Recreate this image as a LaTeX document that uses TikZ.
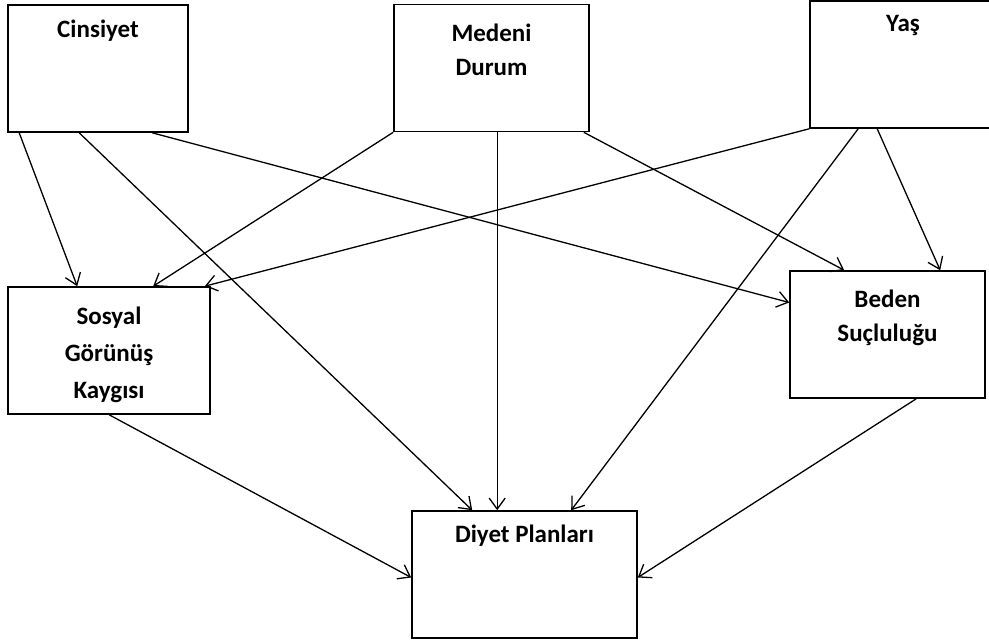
\documentclass[tikz,border=0pt]{standalone}
\usepackage{fontspec}
\setmainfont{Carlito}
\usetikzlibrary{positioning, arrows.meta}

\begin{document}
\begin{tikzpicture}[x=1pt, y=-1pt,
  varbox/.style={draw, line width=1.6pt, rectangle, inner sep=0pt, minimum height=127pt},
  vartext/.style={font=\bfseries\fontsize{25}{34}\selectfont, align=center, inner sep=0pt},
  link/.style={-{Straight Barb[length=11pt, width=16pt]}, line width=1.3pt}]

\useasboundingbox (0,0) rectangle (989,641);
\clip (0,0) rectangle (989,641);

% --- top row: background variables ---
\node[varbox, minimum width=180pt] (cins) at (98,68.5) {};
\node[varbox, minimum width=195pt] (medeni) at (491.5,68) {};
\node[varbox, minimum width=186pt] (yas) at (903,64.5) {};

% --- middle row: mediators ---
\node[varbox, minimum width=202pt] (sosyal) at (109,350.5) {};
\node[varbox, minimum width=195pt] (beden) at (887.5,334.5) {};

% --- bottom: outcome ---
\node[varbox, minimum width=225pt] (diyet) at (524.5,574.5) {};

% --- box titles ---
\node[vartext, below=16pt of cins.north] (cinsT) {Cinsiyet};
\node[vartext, below=20pt of medeni.north] (medeniT) {Medeni\\Durum};
\node[vartext, below=15pt of yas.north] (yasT) {Yaş};
\node[vartext, below=21pt of sosyal.north] (sosyalT) {Sosyal\\[3pt]Görünüş\\[3pt]Kaygısı};
\node[vartext, below=20pt of beden.north] (bedenT) {Beden\\Suçluluğu};
\node[vartext, below=15pt of diyet.north] (diyetT) {Diyet Planları};

% --- arrows from the top row ---
\draw[link] ([xshift=12pt]cins.south west) -- ([xshift=70pt]sosyal.north west);
\draw[link] ([xshift=72pt]cins.south west) -- ([xshift=61pt]diyet.north west);
\draw[link] ([xshift=145pt]cins.south west) -- ([yshift=32pt]beden.west);
\draw[link] (medeni.south west) -- ([xshift=146pt]sosyal.north west);
\draw[link] ([xshift=104pt]medeni.south west) -- ([xshift=86pt]diyet.north west);
\draw[link] ([xshift=-6pt]medeni.south east) -- ([xshift=55pt]beden.north west);
\draw[link] (yas.south west) -- ([xshift=-6pt]sosyal.north east);
\draw[link] ([xshift=49pt]yas.south west) -- ([xshift=160pt]diyet.north west);
\draw[link] ([xshift=68pt]yas.south west) -- ([xshift=151pt]beden.north west);

% --- arrows from the mediators ---
\draw[link] ([xshift=102pt]sosyal.south west) -- ([yshift=-3pt]diyet.west);
\draw[link] ([xshift=127pt]beden.south west) -- ([yshift=-3pt]diyet.east);
\end{tikzpicture}
\end{document}
